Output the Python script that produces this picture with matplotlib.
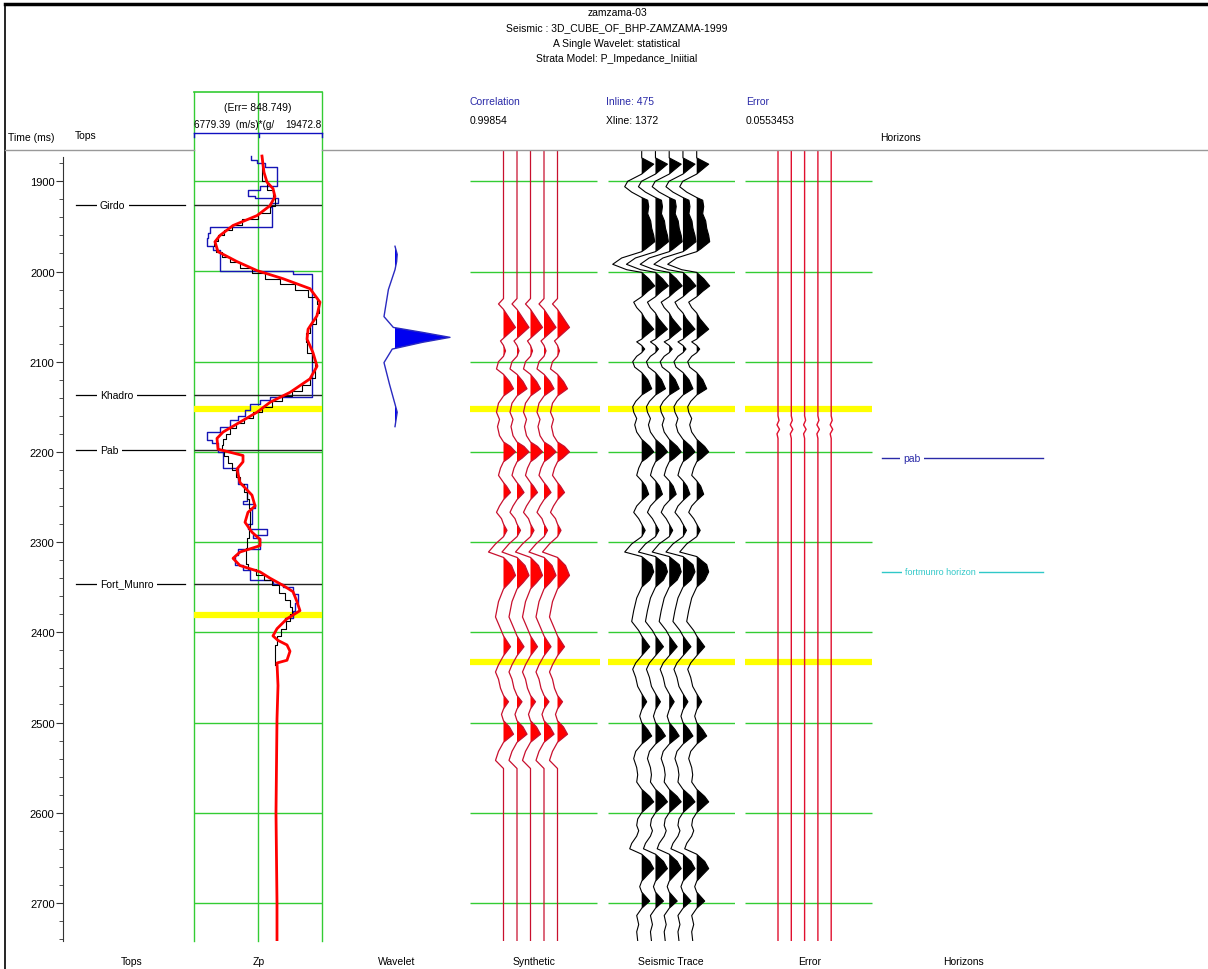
import numpy as np
import matplotlib
matplotlib.use("Agg")
import matplotlib.pyplot as plt
from matplotlib.lines import Line2D

plt.rcParams['font.family'] = ['Liberation Sans', 'DejaVu Sans']

# ---------------- data ----------------
title_lines = ["zamzama-03",
               "Seismic : 3D_CUBE_OF_BHP-ZAMZAMA-1999",
               "A Single Wavelet: statistical",
               "Strata Model: P_Impedance_Iniitial"]
correlation = "0.99854"
inline_no, xline_no = 475, 1372
error_value = "0.0553453"
zp_err = 848.749
zp_min, zp_max = 6779.39, 19472.8

grid_times = [1900, 2000, 2100, 2200, 2300, 2400, 2500, 2600, 2700]

tops_names = ["Girdo", "Khadro", "Pab", "Fort_Munro"]
tops_times = [1926, 2137, 2198, 2346]

horizon_names = ["pab", "fortmunro horizon"]
horizon_times = [2207, 2333]

yellow_zp = [2152, 2381]
yellow_traces = [2152, 2433]

# Zp well log (blocky, layer tops)
blue_top = [1872, 1876, 1880, 1884, 1905, 1910, 1916, 1918, 1924, 1929, 1951, 1957, 1963,
            1972, 1976, 2000, 2003, 2139, 2143, 2147, 2154, 2160, 2165, 2172, 2178, 2187,
            2190, 2200, 2218, 2236, 2254, 2258, 2262, 2280, 2286, 2292, 2296, 2308, 2314,
            2325, 2331, 2342, 2346, 2350, 2358, 2368, 2376, 2384]
blue_zp = [12430, 13030, 13820, 15010, 13320, 12130, 12830, 15110, 14320, 14510, 8370, 8170, 8070,
           8660, 9360, 16600, 18480, 14320, 13320, 12330, 11840, 11140, 10350, 9360, 8070, 8560,
           9160, 9660, 11140, 12040, 11640, 12830, 12530, 12130, 14020, 12630, 13320, 11140, 10850,
           11640, 12330, 14610, 15610, 16600, 17090, 16800, 16600, 15800]
blue_base = 2388

# Zp initial model (black)
black_top = [1872, 1900, 1910, 1918, 1927, 1935, 1942, 1948, 1954, 1960, 1966, 1972, 1978, 1984,
             1990, 1996, 2002, 2008, 2014, 2020, 2028, 2036, 2046, 2058, 2068, 2078, 2090, 2100,
             2110, 2118, 2126, 2132, 2138, 2144, 2150, 2156, 2162, 2168, 2174, 2180, 2186, 2192,
             2198, 2204, 2212, 2220, 2228, 2236, 2244, 2252, 2262, 2274, 2284, 2296, 2306, 2316,
             2324, 2330, 2336, 2342, 2348, 2356, 2364, 2372, 2380, 2388, 2396, 2404, 2414]
black_zp = [13520, 14020, 14610, 14810, 14320, 13130, 11540, 10550, 9750, 9160, 8760, 8960, 9560, 10350,
            11340, 12530, 13820, 15310, 16800, 18090, 18980, 19180, 18880, 18280, 17890, 17990, 18480, 18780,
            18780, 18280, 17490, 16500, 15510, 14510, 13520, 12630, 11740, 10940, 10350, 9950, 9660, 9560,
            9750, 10150, 10550, 10940, 11340, 11740, 12040, 12230, 12330, 12330, 12230, 12040, 11940, 11940,
            12130, 12930, 13720, 14510, 15210, 15800, 16300, 16500, 16300, 15900, 15410, 15010, 14810]
black_base = 2436

# Zp inversion result (red)
red_t = [1872, 1890, 1901, 1908, 1917, 1927, 1938, 1949, 1960, 1967, 1978, 1989, 1999, 2008, 2019,
         2034, 2049, 2064, 2075, 2090, 2105, 2119, 2134, 2145, 2156, 2167, 2178, 2185, 2197, 2204,
         2211, 2219, 2234, 2248, 2260, 2267, 2278, 2289, 2297, 2304, 2311, 2318, 2326, 2333, 2340,
         2348, 2355, 2366, 2376, 2385, 2396, 2404, 2409, 2414, 2421, 2431, 2434, 2459, 2496, 2600,
         2700, 2742]
red_zp = [13520, 13720, 14020, 14610, 14810, 14320, 13030, 10650, 9360, 8860, 9160, 11040, 13030, 15610, 18280,
          19270, 18980, 18090, 17990, 18580, 18980, 18280, 16300, 14320, 13030, 11340, 9660, 9060, 9160, 11640,
          11640, 11040, 11340, 12530, 12830, 12130, 11840, 12530, 13320, 13320, 11340, 10650, 11340, 13320, 14320,
          15610, 16600, 16990, 17290, 16000, 15010, 14610, 15110, 16000, 16300, 16000, 15010, 15110, 15010, 14910,
          15010, 15010]

# statistical wavelet (relative time ms, normalised amplitude)
wavelet_center = 2073
wavelet_t = np.array([-101, -92, -84, -75, -53, -23, -11, -5.5, 0, 5.5, 13, 28, 52, 74, 83, 91, 99])
wavelet_amp = np.array([0, 0.04, 0.03, 0, -0.12, -0.2, -0.03, 0.5, 1.0, 0.5, -0.05, -0.2, -0.1, 0, 0.04, 0.02, 0])

# seismic trace at well
seis_t = np.array([1866, 1874, 1881, 1892, 1900, 1906, 1912, 1918, 1921, 1928, 1936, 1944, 1952, 1960, 1967,
                   1975, 1978, 1985, 1992, 1998, 2001, 2008, 2016, 2022, 2028, 2034, 2040, 2046, 2052, 2064,
                   2072, 2075, 2078, 2082, 2086, 2090, 2094, 2100, 2106, 2112, 2120, 2130, 2137, 2144, 2150,
                   2156, 2163, 2170, 2178, 2186, 2194, 2200, 2207, 2211, 2218, 2226, 2232, 2238, 2247, 2254,
                   2260, 2267, 2274, 2280, 2287, 2294, 2302, 2311, 2316, 2325, 2333, 2342, 2350, 2362, 2376,
                   2388, 2398, 2404, 2416, 2426, 2434, 2441, 2450, 2460, 2468, 2477, 2486, 2493, 2500, 2508,
                   2515, 2524, 2532, 2540, 2550, 2558, 2566, 2574, 2582, 2588, 2596, 2600, 2607, 2614, 2620,
                   2626, 2634, 2640, 2646, 2654, 2662, 2670, 2676, 2682, 2688, 2698, 2706, 2714, 2724, 2732,
                   2742])
seis_amp = np.array([0, 0, 12, 0, -14, -17, -10, 0, 6, 7, 6, 9, 10, 12, 13,
                     4, 0, -20, -29, -15, 0, 7, 13, 6, 0, -8, -5, 0, 3, 12,
                     3, 0, -5, 0, 3, 0, -5, -9, -7, 0, 6, 10, 0, -6, -9,
                     -8, -5, -7, -5, 0, 8, 12, 5, 0, -3, -5, 0, 4, 7, 0,
                     -5, -8, -3, 0, 3.5, 0, -10, -17, 0, 10, 12, 8, 0, -5, -8,
                     -10, -3, 0, 8, 0, -6, -9, -6, -4, 0, 5, 0, -2, 0, 6,
                     10, 0, -6, -8, -5, -4, -5, 0, 8, 12, 4, 0, -4, -5, -3,
                     -5, -10, -12, 0, 8, 12, 5, 0, -2, 0, 8, 0, -5, -3, -5,
                     -4])

# synthetic trace
syn_t = np.array([1866, 2030, 2036, 2042, 2052, 2062, 2070, 2074, 2077, 2082, 2088, 2094, 2100, 2108, 2114,
                  2122, 2130, 2138, 2146, 2156, 2164, 2172, 2182, 2189, 2194, 2200, 2207, 2211, 2218, 2226,
                  2234, 2238, 2245, 2253, 2260, 2267, 2274, 2280, 2287, 2294, 2302, 2311, 2317, 2326, 2337,
                  2345, 2352, 2366, 2383, 2396, 2404, 2416, 2426, 2436, 2444, 2452, 2462, 2470, 2477, 2485,
                  2491, 2498, 2505, 2513, 2522, 2532, 2542, 2551, 2742])
syn_amp = np.array([0, 0, -5, 0, 6, 12, 4, 0, -3, 0, 2, 0, -5, -7, 0,
                    6, 10, 0, -5, -7, -4, -6, -4, 0, 7, 12, 5, 0, -3, -5,
                    0, 3, 7, 0, -4, -7, -2, 0, 3.5, 0, -8, -15, 0, 8, 12,
                    6, 0, -5, -8, -3, 0, 7, 0, -5, -8, -5, -3, 0, 5, 0,
                    -2, 0, 6, 10, 0, -5, -8, 0, 0])

# error trace (seismic - synthetic)
err_t = np.array([1866, 2160, 2165, 2170, 2175, 2180, 2185, 2742])
err_amp = np.array([0, 0, 1, -1, 1.5, -1, 0, 0])

# ---------------- figure ----------------
W, H = 1208, 970
GREEN = '#33cc33'
YELLOW = '#ffff00'
LBLUE = '#2a2aa8'
FS = 7.5

fig = plt.figure(figsize=(W / 100, H / 100), dpi=100)


def px_time(y):
    return 1900 + (y - 182.3) / 0.902


def add_panel(x0, x1, y0=152, y1=942):
    ax = fig.add_axes([x0 / W, 1 - y1 / H, (x1 - x0) / W, (y1 - y0) / H])
    ax.set_ylim(px_time(y1), px_time(y0))
    ax.set_facecolor('none')
    for s in ax.spines.values():
        s.set_visible(False)
    ax.set_xticks([])
    ax.set_yticks([])
    return ax


def ftext(x, y, s, **kw):
    kw.setdefault('fontsize', FS)
    kw.setdefault('va', 'center')
    fig.text(x / W, 1 - y / H, s, **kw)


def fline(xs, ys, **kw):
    fig.add_artist(Line2D([x / W for x in xs], [1 - y / H for y in ys], **kw))


def wiggle(ax, t, amp, bases, line_color, fill_color, lw=0.9):
    for b in bases:
        ax.fill_betweenx(t, b, b + amp, where=amp > 0, interpolate=True,
                         color=fill_color, lw=0, zorder=3)
        ax.plot(b + amp, t, color=line_color, lw=lw, zorder=4)


# frame + header
fline([5, 1208], [5, 5], color='black', lw=2.5)
fline([5, 5], [5, 970], color='black', lw=1.2)
fline([5, 194], [151, 151], color='#999999', lw=1)
fline([322, 1208], [151, 151], color='#999999', lw=1)

for i, s in enumerate(title_lines):
    ftext(617, 13 + 15.3 * i, s, ha='center')

ftext(470, 102, "Correlation", color=LBLUE)
ftext(470, 121, correlation)
ftext(606, 102, f"Inline: {inline_no}", color=LBLUE)
ftext(606, 121, f"Xline: {xline_no}")
ftext(746, 102, "Error", color=LBLUE)
ftext(746, 121, error_value)
ftext(880, 138, "Horizons")
ftext(8, 138, "Time (ms)")
ftext(75, 136, "Tops")

# Zp header
ftext(258, 108, f"(Err= {zp_err})", ha='center')
ftext(194, 125, f"{zp_min}  (m/s)*(g/", ha='left', fontsize=7.2)
ftext(322, 125, f"{zp_max}", ha='right', fontsize=7.2)
fline([194, 322], [134, 134], color='#1010c0', lw=1)
for xv in (194, 259, 322):
    fline([xv, xv], [134, 138], color='#1010c0', lw=1)

# time axis + tops
ax_t = add_panel(63, 190)
ax_t.spines['left'].set_visible(True)
ax_t.spines['left'].set_color('#333333')
ax_t.set_yticks(grid_times)
ax_t.set_yticks(np.arange(1880, 2741, 20), minor=True)
ax_t.set_ylim(px_time(942), px_time(152))
ax_t.spines['left'].set_bounds(px_time(942), px_time(158))
ax_t.tick_params(axis='y', which='major', length=5, labelsize=8, pad=1, color='#333333')
ax_t.tick_params(axis='y', which='minor', length=3, color='#333333')
ax_t.set_xlim(63, 190)
for name, t in zip(tops_names, tops_times):
    ax_t.plot([76, 185], [t, t], color='black', lw=0.9)
    ax_t.text(100, t, name, fontsize=FS, va='center', ha='left',
              bbox=dict(fc='white', ec='none', pad=2.5))

# Zp track
ax_zp = add_panel(194, 322, 93, 942)
ax_zp.set_xlim(zp_min, zp_max)
for xv in (zp_min, (zp_min + zp_max) / 2, zp_max):
    ax_zp.axvline(xv, color=GREEN, lw=1, clip_on=False, zorder=1)
ax_zp.axhline(ax_zp.get_ylim()[1], color=GREEN, lw=1.2, clip_on=False)
ax_zp.hlines(grid_times, zp_min, zp_max, color=GREEN, lw=1, zorder=1)
ax_zp.hlines(yellow_zp, zp_min, zp_max, color=YELLOW, lw=4.5, zorder=1)
ax_zp.hlines(tops_times, zp_min, zp_max, color='#222222', lw=1, zorder=2)
ax_zp.plot(blue_zp + [blue_zp[-1]], blue_top + [blue_base], drawstyle='steps-pre',
           color='#1515b5', lw=1, zorder=3)
ax_zp.plot(black_zp + [black_zp[-1]], black_top + [black_base], drawstyle='steps-pre',
           color='black', lw=0.8, zorder=4)
ax_zp.plot(red_zp, red_t, color='red', lw=2, zorder=5)

# wavelet
ax_w = add_panel(340, 470)
ax_w.set_xlim(-1.0, 1.364)
tw = wavelet_center + wavelet_t
ax_w.fill_betweenx(tw, 0, wavelet_amp, where=wavelet_amp > 0, interpolate=True, color='#0000f0', lw=0)
ax_w.plot(wavelet_amp, tw, color='#2a2ac0', lw=1)

# synthetic
ax_s = add_panel(470, 600)
ax_s.set_xlim(0, 130)
ax_s.hlines(grid_times, 0, 127, color=GREEN, lw=1, zorder=1)
ax_s.hlines(yellow_traces, 0, 130, color=YELLOW, lw=4.5, zorder=1)
wiggle(ax_s, syn_t, syn_amp, [33.5 + 13.5 * i for i in range(5)], '#c8102e', 'red')

# seismic
ax_k = add_panel(607, 735)
ax_k.set_xlim(0, 128)
ax_k.hlines(grid_times, 1, 128, color=GREEN, lw=1, zorder=1)
ax_k.hlines(yellow_traces, 1, 128, color=YELLOW, lw=4.5, zorder=1)
wiggle(ax_k, seis_t, seis_amp, [34.7 + 13.75 * i for i in range(5)], 'black', 'black', lw=0.8)

# error
ax_e = add_panel(745, 875)
ax_e.set_xlim(0, 130)
ax_e.hlines(grid_times, 0, 127, color=GREEN, lw=1, zorder=1)
ax_e.hlines(yellow_traces, 0, 127, color=YELLOW, lw=4.5, zorder=1)
for b in [33 + 13.3 * i for i in range(5)]:
    ax_e.plot(b + err_amp, err_t, color='#e0102e', lw=1, zorder=3)

# horizons
ax_h = add_panel(878, 1048)
ax_h.set_xlim(878, 1048)
ax_h.plot([882, 1043], [horizon_times[0]] * 2, color='#2a2aa8', lw=1)
ax_h.text(903, horizon_times[0], horizon_names[0], color='#2a2aa8', fontsize=FS, va='center',
          bbox=dict(fc='white', ec='none', pad=2.5))
ax_h.plot([882, 1043], [horizon_times[1]] * 2, color='#30c8c8', lw=1)
ax_h.text(905, horizon_times[1], horizon_names[1], color='#30c8c8', fontsize=6.5, va='center',
          bbox=dict(fc='white', ec='none', pad=2.5))

# track labels
for x, s in [(132, "Tops"), (259, "Zp"), (397, "Wavelet"), (534, "Synthetic"),
             (671, "Seismic Trace"), (810, "Error"), (964, "Horizons")]:
    ftext(x, 962, s, ha='center')

fig.savefig("out.png", dpi=100, facecolor='white')
